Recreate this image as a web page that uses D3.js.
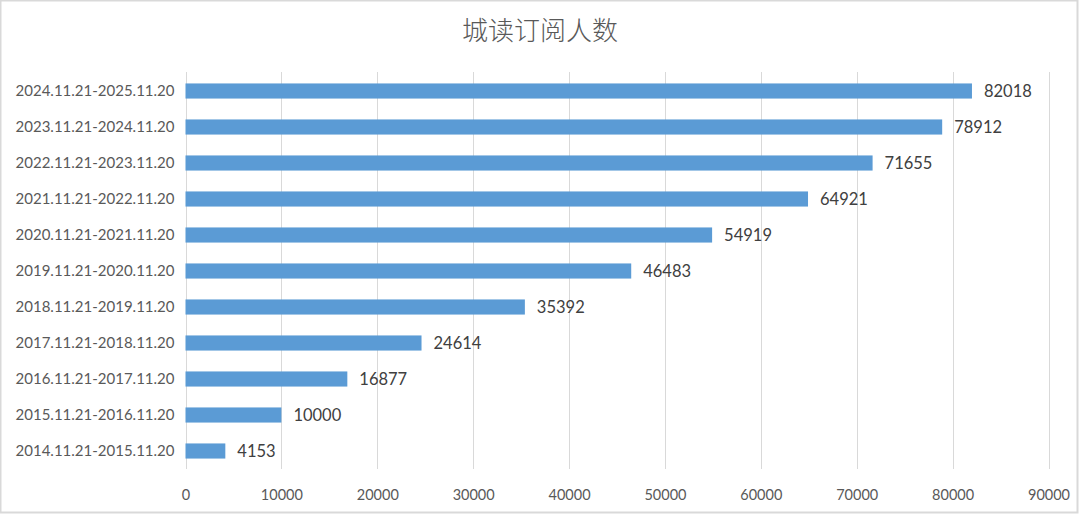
<!DOCTYPE html>
<html><head><meta charset="utf-8">
<script src="https://cdn.jsdelivr.net/npm/d3@7"></script>
<style>
html,body{margin:0;padding:0;background:#fff;}
svg{display:block;}
</style></head>
<body>
<script>
const categories = ["2014.11.21-2015.11.20","2015.11.21-2016.11.20","2016.11.21-2017.11.20","2017.11.21-2018.11.20","2018.11.21-2019.11.20","2019.11.21-2020.11.20","2020.11.21-2021.11.20","2021.11.21-2022.11.20","2022.11.21-2023.11.20","2023.11.21-2024.11.20","2024.11.21-2025.11.20"];
const values = [4153,10000,16877,24614,35392,46483,54919,64921,71655,78912,82018];
const tickValues = [0,10000,20000,30000,40000,50000,60000,70000,80000,90000];
const title = "城读订阅人数";

const W = 1080, H = 515;
const svg = d3.select("body").append("svg").attr("width", W).attr("height", H);
svg.append("rect").attr("x",0.5).attr("y",0.5).attr("width",W-3).attr("height",H-3)
  .attr("fill","#fff").attr("stroke","#d9d9d9").attr("stroke-width",2);

const x = d3.scaleLinear().domain([0,90000]).range([185.5,1048.5]);
const y = d3.scaleBand().domain(categories.slice().reverse()).range([73,469]).paddingInner(0.58).paddingOuter(0.29);

// grid
svg.append("g").selectAll("line").data(tickValues).join("line")
  .attr("x1",d=>Math.round(x(d))+0.5).attr("x2",d=>Math.round(x(d))+0.5)
  .attr("y1",72).attr("y2",469)
  .attr("stroke","#d9d9d9").attr("stroke-width",1);

// bars
svg.append("g").selectAll("rect").data(categories).join("rect")
  .attr("x",x(0)).attr("y",d=>y(d)).attr("height",y.bandwidth())
  .attr("width",(d,i)=>x(values[i])-x(0))
  .attr("fill","#5b9bd5");

// value labels
svg.append("g").selectAll("text").data(categories).join("text")
  .attr("x",(d,i)=>x(values[i])+12).attr("y",d=>y(d)+y.bandwidth()/2)
  .attr("dy","0.36em")
  .attr("font-family","Lato, 'Open Sans', sans-serif").attr("font-size",16.5)
  .attr("fill","#404040")
  .text((d,i)=>values[i]);

// y axis labels
const yAxis = d3.axisLeft(y).tickSize(0).tickPadding(11);
const gy = svg.append("g").attr("transform",`translate(${x(0)},0)`).call(yAxis);
gy.select(".domain").remove();
gy.selectAll("text").attr("font-family","Lato, 'Open Sans', sans-serif").attr("font-size",15).attr("fill","#595959");

// x axis labels
const xAxis = d3.axisBottom(x).tickValues(tickValues).tickSize(0).tickPadding(16).tickFormat(d=>d);
const gx = svg.append("g").attr("transform",`translate(0,474)`).call(xAxis);
gx.select(".domain").remove();
gx.selectAll("text").attr("font-family","Lato, 'Open Sans', sans-serif").attr("font-size",14.5).attr("fill","#595959");

// title
svg.append("text").attr("x",540).attr("y",40).attr("text-anchor","middle")
  .attr("font-family","'Noto Sans CJK SC', sans-serif").attr("font-weight",300).attr("font-size",26)
  .attr("fill","#595959").text(title);
</script>
</body></html>
